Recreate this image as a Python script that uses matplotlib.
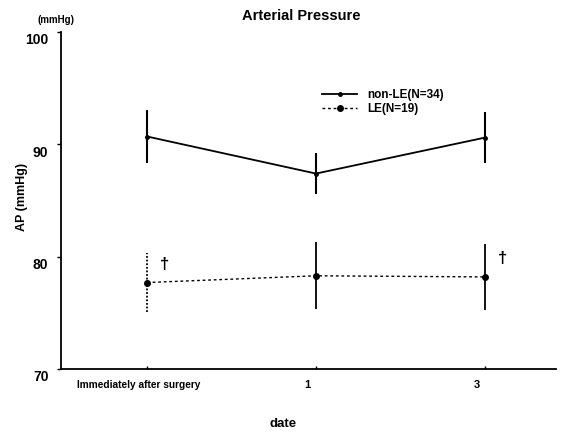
#!/usr/bin/env python3

import matplotlib

matplotlib.use("Agg")
import matplotlib.pyplot as plt
import matplotlib.transforms as mtransforms

plt.rcParams["font.family"] = ["Liberation Sans", "DejaVu Sans"]

days = ["Immediately after surgery", "1", "3"]
nonle_mean = [90.7, 87.4, 90.6]
nonle_sd = [2.35, 1.85, 2.3]
le_mean = [77.7, 78.3, 78.2]
le_sd = [2.65, 3.0, 2.95]
sig_marks = ["\u2020", "", "\u2020"]

x = list(range(len(days)))

fig = plt.figure(figsize=(5.61, 4.32), dpi=100)
ax = fig.add_axes([0.1087, 0.1458, 0.882, 0.780])

nonle = ax.errorbar(x, nonle_mean, yerr=nonle_sd, color="black",
                    linewidth=1.3, elinewidth=1.5, marker="o", markersize=2.5,
                    capsize=0)
le = ax.errorbar(x, le_mean, yerr=le_sd, color="black", linewidth=1.0,
                 linestyle=(0, (2, 2)), elinewidth=1.3, marker="o",
                 markersize=4, capsize=0)
le[2][0].set_linestyles([(0, (1, 1)), "solid", "solid"])

for xi, m, s, mark in zip(x, le_mean, le_sd, sig_marks):
    if mark:
        ax.text(xi + 0.105, m + 1.6, mark, fontsize=12, fontweight="bold",
                ha="center", va="center")

ax.set_xlim(-0.51, 2.42)
ax.set_ylim(70, 100)
ax.set_yticks([70, 80, 90, 100])
ax.set_xticks(x)
ax.set_xticklabels(days)

ax.spines["top"].set_visible(False)
ax.spines["right"].set_visible(False)
ax.spines["left"].set_linewidth(1.3)
ax.spines["bottom"].set_linewidth(1.3)

ax.tick_params(axis="y", direction="out", length=3, width=1, pad=6,
               labelsize=10)
ax.tick_params(axis="x", direction="in", length=2, width=1, pad=8,
               labelsize=8)
for lab in ax.get_yticklabels():
    lab.set_fontweight("bold")
    lab.set_transform(lab.get_transform() + mtransforms.ScaledTranslation(
        0, -5 / 72, fig.dpi_scale_trans))
for i, lab in enumerate(ax.get_xticklabels()):
    lab.set_fontweight("bold")
    lab.set_fontsize(7.3 if i == 0 else 8)
    lab.set_transform(lab.get_transform() + mtransforms.ScaledTranslation(
        -6 / 72, 0, fig.dpi_scale_trans))

fig.text(0.537, 0.962, "Arterial Pressure", fontsize=10.5, fontweight="bold",
         ha="center", va="center")
fig.text(0.1, 0.954, "(mmHg)", fontsize=7, fontweight="bold",
         ha="center", va="center")
fig.text(0.039, 0.544, "AP (mmHg)", fontsize=9, fontweight="bold",
         ha="center", va="center", rotation=90)
fig.text(0.505, 0.018, "date", fontsize=9.5, fontweight="bold",
         ha="center", va="center")

ax.legend([nonle[0], le[0]], ["non-LE(N=34)", "LE(N=19)"],
          loc="upper left", bbox_to_anchor=(0.555, 0.819),
          bbox_transform=fig.transFigure, frameon=False, numpoints=1,
          handlelength=3.0, handletextpad=0.8, labelspacing=0.2,
          prop={"weight": "bold", "size": 8.5})

fig.savefig("out.png", dpi=100)
